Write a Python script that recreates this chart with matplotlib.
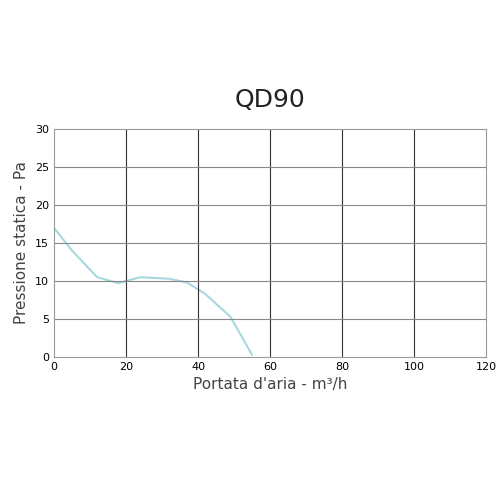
import matplotlib
matplotlib.use("Agg")
import matplotlib.pyplot as plt

flow = [0, 5, 12, 18, 20, 24, 32, 37, 42, 49, 55]
pressure = [17, 14, 10.5, 9.7, 10.0, 10.5, 10.3, 9.8, 8.3, 5.3, 0.3]
x_ticks = [0, 20, 40, 60, 80, 100, 120]
y_ticks = [0, 5, 10, 15, 20, 25, 30]

fig = plt.figure(figsize=(5, 5), dpi=100)
ax = fig.add_axes([0.108, 0.286, 0.864, 0.456])
ax.plot(flow, pressure, color="#a8d8df", lw=1.5)
ax.set_xlim(0, 120)
ax.set_ylim(0, 30)
ax.set_xticks(x_ticks)
ax.set_yticks(y_ticks)
for x in x_ticks[1:-1]:
    ax.axvline(x, color="#333333", lw=0.8)
for y in y_ticks[1:-1]:
    ax.axhline(y, color="#888888", lw=0.8)
for s in ax.spines.values():
    s.set_color("#999999")
ax.tick_params(labelsize=8, length=0)
ax.set_xlabel("Portata d'aria - m³/h", fontsize=11, color="#444444")
ax.set_ylabel("Pressione statica - Pa", fontsize=11, color="#444444")
fig.text(0.54, 0.785, "QD90", ha="center", fontsize=18, color="#222222")
fig.savefig("out.png")
